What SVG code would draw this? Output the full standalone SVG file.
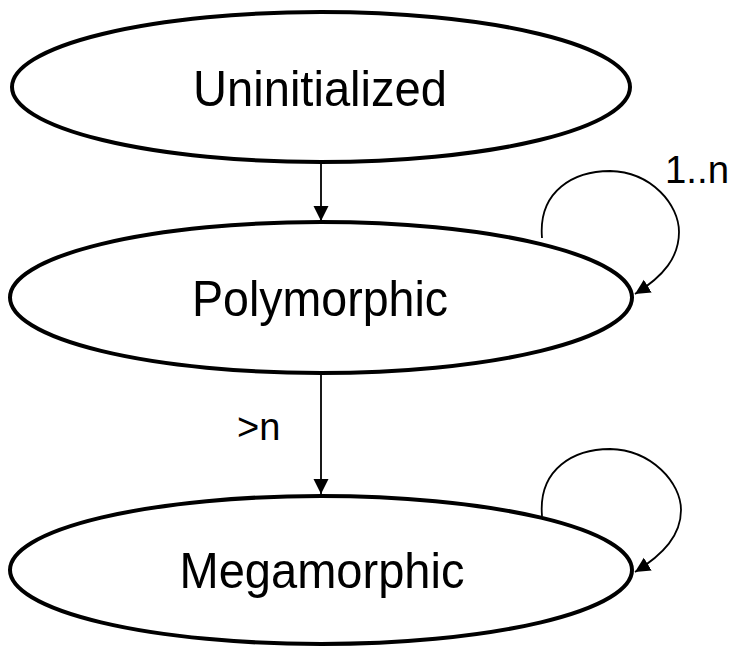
<svg xmlns="http://www.w3.org/2000/svg" width="735" height="646" viewBox="0 0 735 646">
<style>
.node{fill:#fff;stroke:#000;stroke-width:4}
.lbl{font-family:"Liberation Sans",Arial,sans-serif;font-size:50px;fill:#000;text-anchor:middle}
.elbl{font-family:"Liberation Sans",Arial,sans-serif;font-size:38px;fill:#000}
.edge{fill:none;stroke:#000;stroke-width:1.8}
</style>
<defs>
<marker id="ah" markerUnits="userSpaceOnUse" markerWidth="16" markerHeight="16" refX="15" refY="7.5" orient="auto">
<path d="M0,0 L15,7.5 L0,15 z" fill="#000"/>
</marker>
</defs>
<rect width="735" height="646" fill="#fff"/>
<g id="uninitialized">
<ellipse class="node" cx="321" cy="87" rx="309" ry="75"/>
<text class="lbl" x="320" y="106" textLength="254" lengthAdjust="spacingAndGlyphs">Uninitialized</text>
</g>
<g id="polymorphic">
<ellipse class="node" cx="321" cy="297.5" rx="311" ry="75.5"/>
<text class="lbl" x="320" y="316" textLength="256" lengthAdjust="spacingAndGlyphs">Polymorphic</text>
</g>
<g id="megamorphic">
<ellipse class="node" cx="321" cy="570" rx="311" ry="74"/>
<text class="lbl" x="322" y="588" textLength="285" lengthAdjust="spacingAndGlyphs">Megamorphic</text>
</g>
<g id="connectors">
<line class="edge" x1="321" y1="162" x2="321" y2="221" marker-end="url(#ah)"/>
<line class="edge" x1="321" y1="373" x2="321" y2="494" marker-end="url(#ah)"/>
<path class="edge" d="M542,238 C538,190 575,171 610,171 C652,172 679,205 679,232 C679,257 664,276 635,294" marker-end="url(#ah)"/>
<path class="edge" d="M542,516 C538,468 575,449 610,449 C652,450 681,483 681,510 C681,535 664,554 635,572" marker-end="url(#ah)"/>
<text class="elbl" x="665" y="183" textLength="64" lengthAdjust="spacingAndGlyphs">1..n</text>
<text class="elbl" x="237" y="440">&gt;n</text>
</g>
</svg>
